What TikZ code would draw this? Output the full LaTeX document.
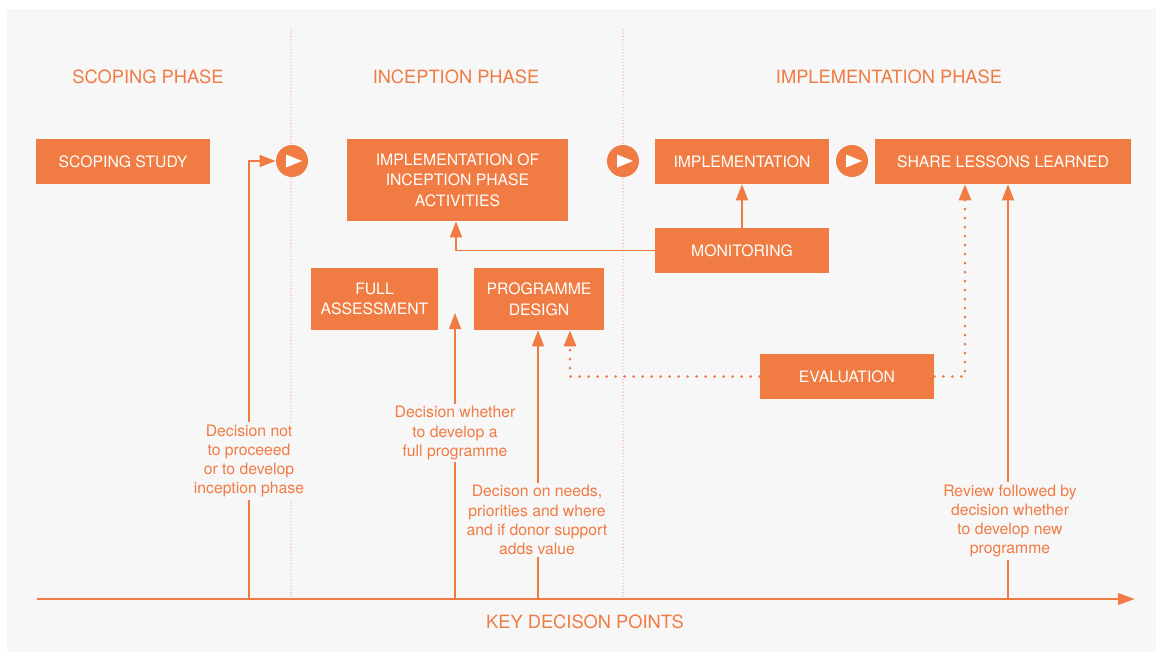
\documentclass[tikz,border=0pt]{standalone}
\usepackage{fontspec}
\setmainfont{TeX Gyre Heros}
\usepackage{tikz}
\usetikzlibrary{arrows.meta, positioning, calc}

\definecolor{brand}{HTML}{F07B43}
\definecolor{bg}{HTML}{F7F7F7}

\begin{document}
\begin{tikzpicture}[x=0.025cm,y=-0.025cm,
    box/.style={rectangle,fill=brand,text=white,align=center,inner sep=0pt,
        font=\fontsize{11.2}{14.6}\selectfont},
    phase/.style={text=brand,font=\fontsize{13}{15}\selectfont},
    note/.style={text=brand,fill=bg,align=center,inner sep=2pt,
        font=\fontsize{11.2}{13.6}\selectfont},
    link/.style={draw=brand,line width=1.1pt,-{Triangle[length=11.4pt,width=8.5pt]}},
    dots/.style={draw=brand,line width=2.1pt,line cap=round,dash pattern=on 0pt off 6.4pt,
        -{Triangle[length=11.4pt,width=8.5pt]}},
    divider/.style={draw=brand!80,line width=0.8pt,line cap=round,dash pattern=on 0pt off 2.3pt},
    play/.style={circle,fill=brand,minimum size=0.8cm,inner sep=0pt}]

    % Sfondo
    \useasboundingbox (0,0) rectangle (1156,652);
    \fill[bg] (7,9) rectangle (1156,652);

    % Linee di fase
    \coordinate (div1top) at (291,30);
    \coordinate (div1bot) at (291,597);
    \coordinate (div2top) at (623,30);
    \coordinate (div2bot) at (623,597);
    \draw[divider] (div1top) -- (div1bot);
    \draw[divider] (div2top) -- (div2bot);

    % Titoli
    \node[phase] (tscope) at (148,77) {SCOPING PHASE};
    \node[phase] (tincep) at (456,77) {INCEPTION PHASE};
    \node[phase] (timpl) at (889,77) {IMPLEMENTATION PHASE};

    % Riquadri
    \node[box,minimum width=4.35cm,minimum height=1.125cm] (scope) at (123,161.5) {SCOPING STUDY};
    \node[box,minimum width=5.525cm,minimum height=2.05cm] (incep) at (457.5,180) {IMPLEMENTATION OF\\INCEPTION PHASE\\ACTIVITIES};
    \node[box,minimum width=4.35cm,minimum height=1.125cm] (impl) at (742,161.5) {IMPLEMENTATION};
    \node[box,minimum width=6.4cm,minimum height=1.125cm] (share) at (1003,161.5) {SHARE LESSONS LEARNED};
    \node[box,minimum width=4.35cm,minimum height=1.125cm] (mon) at (742,250.5) {MONITORING};
    \node[box,minimum width=3.175cm,minimum height=1.55cm] (assess) at (374.5,299) {FULL\\ASSESSMENT};
    \node[box,minimum width=3.25cm,minimum height=1.55cm] (design) at (539,299) {PROGRAMME\\DESIGN};
    \node[box,minimum width=4.35cm,minimum height=1.125cm] (eval) at (847,376.5) {EVALUATION};

    % Cerchi
    \foreach \name/\cx in {play1/292,play2/623,play3/852} {
        \node[play] (\name) at (\cx,161) {};
        \fill[white] ($(\name)+(-6,-6.5)$) -- ($(\name)+(10,0)$) -- ($(\name)+(-6,6.5)$) -- cycle;
    }

    % Asse
    \coordinate (axstart) at (37,599);
    \coordinate (axend) at (1135,599);
    \draw[brand,line width=1.9pt,-{Triangle[length=12pt,width=8pt]}] (axstart) -- (axend);
    \node[phase] (axlabel) at (585,622) {KEY DECISON POINTS};

    % Punti di decisione
    \coordinate (d1) at (249,599);
    \coordinate (d2) at (455,599);
    \coordinate (d2top) at (455,313);
    \coordinate (d3) at (538,599);
    \coordinate (d4) at (1008,599);
    \draw[link] (d1) |- (play1.west);
    \draw[link] (d2) -- (d2top);
    \draw[link] (d3) -- (d3 |- design.south);
    \draw[link] (d4) -- (d4 |- share.south);

    \node[note] (n1) at (249,461) {Decision not\\to proceeed\\or to develop\\inception phase};
    \node[note] (n2) at (455,433) {Decision whether\\to develop a\\full programme};
    \node[note] (n3) at (537,520) {Decison on needs,\\priorities and where\\and if donor support\\adds value};
    \node[note] (n4) at (1010,521) {Review followed by\\decision whether\\to develop new\\programme};

    % Monitoraggio
    \draw[link] (mon.north) -- (impl.south);
    \draw[link] (mon.west) -| ([xshift=-0.0375cm]incep.south);

    % Valutazione
    \draw[dots] (eval.west) -| ([xshift=0.775cm]design.south);
    \draw[dots] (eval.east) -| ([xshift=-0.95cm]share.south);
\end{tikzpicture}
\end{document}
